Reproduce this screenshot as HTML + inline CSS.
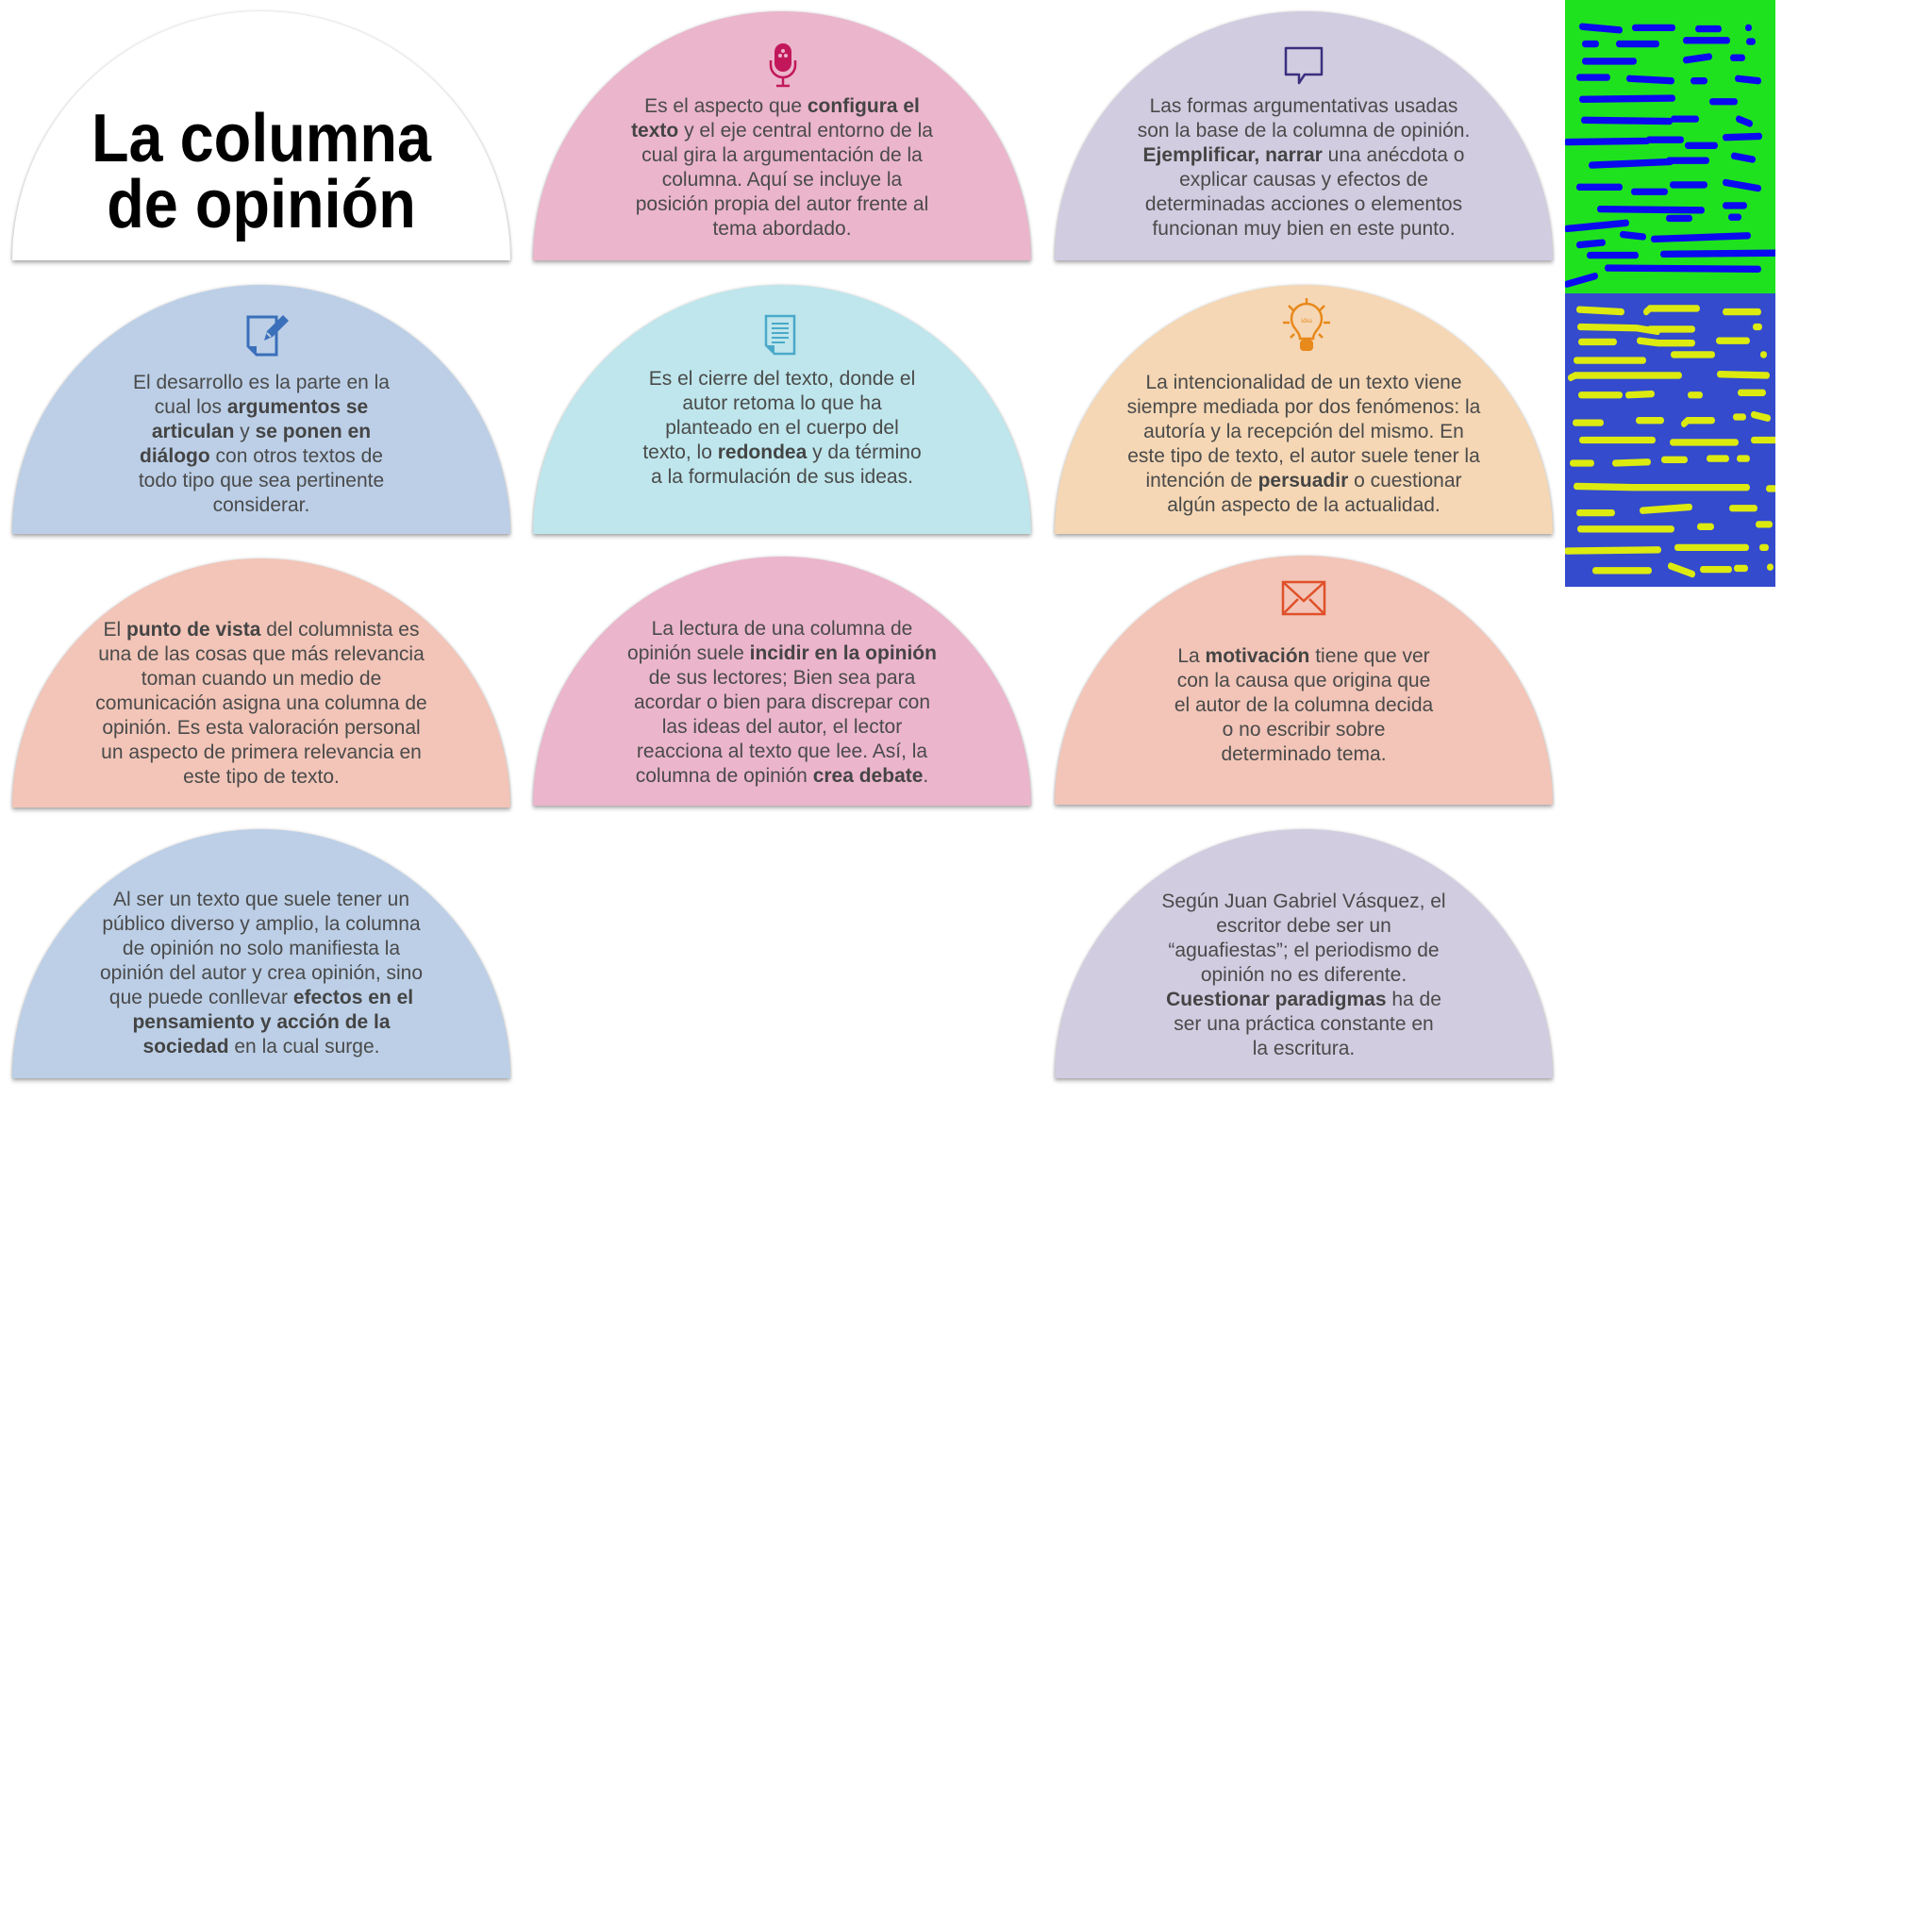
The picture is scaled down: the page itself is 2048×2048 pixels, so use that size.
<!DOCTYPE html>
<html><head><meta charset="utf-8"><style>
body{margin:0;width:2048px;height:2048px;background:#fff;position:relative;overflow:hidden;font-family:"Liberation Sans",Arial,sans-serif}
.c{position:absolute;width:528px;height:264px;border-radius:264px 264px 0 0;box-shadow:0 3px 4px rgba(0,0,0,.28),0 0 3px rgba(0,0,0,.18)}
.t{position:absolute;width:528px;text-align:center;font-size:21px;line-height:26px;color:#4a4a4a}
.t b{color:#444}
.ic{position:absolute}
.pink{background:#ebb5cb}.lav{background:#d1cce0}.blue{background:#bccfe7}.cyan{background:#bee6ec}.peach{background:#f5d7b5}.sal{background:#f2c5b8}
</style></head><body>
<div class="c" style="left:13px;top:12px;background:#fff"></div>
<div style="position:absolute;left:13px;width:528px;top:112px;text-align:center;font-weight:bold;font-size:72px;line-height:70px;color:#000"><div style="transform:scaleX(0.9)">La columna<br>de opinión</div></div>
<div class="c pink" style="left:565px;top:12px"></div>
<div class="c lav" style="left:1118px;top:12px"></div>
<div class="c blue" style="left:13px;top:302px"></div>
<div class="c cyan" style="left:565px;top:302px"></div>
<div class="c peach" style="left:1118px;top:302px"></div>
<div class="c sal" style="left:13px;top:592px"></div>
<div class="c pink" style="left:565px;top:590px"></div>
<div class="c sal" style="left:1118px;top:589px"></div>
<div class="c blue" style="left:13px;top:879px"></div>
<div class="c lav" style="left:1118px;top:879px"></div>

<svg class="ic" style="left:812px;top:44px" width="36" height="50" viewBox="0 0 36 50"><rect x="9" y="2" width="18" height="30" rx="9" fill="#c2185b"/><circle cx="18" cy="10" r="2" fill="#ebb5cb"/><circle cx="15" cy="15" r="2" fill="#ebb5cb"/><circle cx="21" cy="15" r="2" fill="#ebb5cb"/><path d="M5 20v5a13 13 0 0 0 26 0v-5" fill="none" stroke="#c2185b" stroke-width="2.5"/><path d="M18 38v8M11 47h14" stroke="#c2185b" stroke-width="2.5"/></svg>
<svg class="ic" style="left:1360px;top:48px" width="44" height="44" viewBox="0 0 44 44"><path d="M3 3h38v28H23l-6 9v-9H3z" fill="none" stroke="#3a2f7e" stroke-width="2.5" stroke-linejoin="round"/></svg>
<svg class="ic" style="left:260px;top:331px" width="50" height="48" viewBox="0 0 50 48"><path d="M3 5h30v40H12l-9-9z" fill="none" stroke="#3a6fba" stroke-width="3"/><path d="M3 36h9v9z" fill="#3a6fba"/><path d="M20 30l3-10L40 3l6 6-17 17z" fill="#3a6fba"/><path d="M23 22l4 4" stroke="#bccfe7" stroke-width="2"/></svg>
<svg class="ic" style="left:809px;top:332px" width="36" height="46" viewBox="0 0 36 46"><path d="M3 3h30v40H12l-9-9z" fill="none" stroke="#4aa9c9" stroke-width="2.5"/><path d="M3 34h9v9z" fill="#4aa9c9"/><path d="M9 11h18M9 16h18M9 21h18M9 26h18M9 31h14" stroke="#4aa9c9" stroke-width="2"/></svg>
<svg class="ic" style="left:1358px;top:314px" width="54" height="62" viewBox="0 0 54 62"><g stroke="#e8891c" stroke-width="2.5" fill="none"><path d="M27 2v7M8 10l5 5M46 10l-5 5M2 28h7M45 28h7M10 44l4-4M44 44l-4-4"/><path d="M20 45c0-8-9-11-9-21a16 16 0 0 1 32 0c0 10-9 13-9 21z"/></g><rect x="20" y="46" width="14" height="12" rx="4" fill="#e8891c"/><text x="27" y="28" font-size="7" fill="#e8891c" text-anchor="middle" font-family="Liberation Serif">idea</text></svg>
<svg class="ic" style="left:1358px;top:615px" width="48" height="38" viewBox="0 0 48 38"><rect x="2" y="2" width="44" height="34" fill="none" stroke="#e0502a" stroke-width="2.5"/><path d="M2 2l22 20 22-20M2 36l16-16M46 36L30 20" fill="none" stroke="#e0502a" stroke-width="2.5"/></svg>

<div class="t" style="left:565px;top:100px">Es el aspecto que <b>configura el</b><br><b>texto</b> y el eje central entorno de la<br>cual gira la argumentación de la<br>columna. Aquí se incluye la<br>posición propia del autor frente al<br>tema abordado.</div>
<div class="t" style="left:1118px;top:100px">Las formas argumentativas usadas<br>son la base de la columna de opinión.<br><b>Ejemplificar, narrar</b> una anécdota o<br>explicar causas y efectos de<br>determinadas acciones o elementos<br>funcionan muy bien en este punto.</div>
<div class="t" style="left:13px;top:393px">El desarrollo es la parte en la<br>cual los <b>argumentos se</b><br><b>articulan</b> y <b>se ponen en</b><br><b>diálogo</b> con otros textos de<br>todo tipo que sea pertinente<br>considerar.</div>
<div class="t" style="left:565px;top:389px">Es el cierre del texto, donde el<br>autor retoma lo que ha<br>planteado en el cuerpo del<br>texto, lo <b>redondea</b> y da término<br>a la formulación de sus ideas.</div>
<div class="t" style="left:1118px;top:393px">La intencionalidad de un texto viene<br>siempre mediada por dos fenómenos: la<br>autoría y la recepción del mismo. En<br>este tipo de texto, el autor suele tener la<br>intención de <b>persuadir</b> o cuestionar<br>algún aspecto de la actualidad.</div>
<div class="t" style="left:13px;top:655px">El <b>punto de vista</b> del columnista es<br>una de las cosas que más relevancia<br>toman cuando un medio de<br>comunicación asigna una columna de<br>opinión. Es esta valoración personal<br>un aspecto de primera relevancia en<br>este tipo de texto.</div>
<div class="t" style="left:565px;top:654px">La lectura de una columna de<br>opinión suele <b>incidir en la opinión</b><br>de sus lectores; Bien sea para<br>acordar o bien para discrepar con<br>las ideas del autor, el lector<br>reacciona al texto que lee. Así, la<br>columna de opinión <b>crea debate</b>.</div>
<div class="t" style="left:1118px;top:683px">La <b>motivación</b> tiene que ver<br>con la causa que origina que<br>el autor de la columna decida<br>o no escribir sobre<br>determinado tema.</div>
<div class="t" style="left:13px;top:941px">Al ser un texto que suele tener un<br>público diverso y amplio, la columna<br>de opinión no solo manifiesta la<br>opinión del autor y crea opinión, sino<br>que puede conllevar <b>efectos en el</b><br><b>pensamiento y acción de la</b><br><b>sociedad</b> en la cual surge.</div>
<div class="t" style="left:1118px;top:943px">Según Juan Gabriel Vásquez, el<br>escritor debe ser un<br>“aguafiestas”; el periodismo de<br>opinión no es diferente.<br><b>Cuestionar paradigmas</b> ha de<br>ser una práctica constante en<br>la escritura.</div>

<svg style="position:absolute;left:1659px;top:0" width="223" height="622" viewBox="0 0 223 508" preserveAspectRatio="none">
<rect width="223" height="254" fill="#1fe21f"/>
<rect y="254" width="223" height="254" fill="#334bcc"/>
<g stroke="#0a0af0" stroke-width="6" stroke-linecap="round" fill="none">
<path d="M18 23l40 3M74 24h40M141 25h22M194 24h1"/>
<path d="M21 38h12M57 38h40M128 35h44M195 36h4"/>
<path d="M21 53h52M128 52l25-3M178 50h10"/>
<path d="M15 67h30M68 68l45 2M136 70h12M183 68l22 2"/>
<path d="M18 86l96-1M156 88h24"/>
<path d="M20 104l91 1M115 103h24M184 103l12 4"/>
<path d="M2 123l85-1M89 121h34M130 126h29M170 119l36-1"/>
<path d="M28 143l84-3M110 139h40M179 135l20 3"/>
<path d="M15 162h43M73 166h33M114 160h34M170 158l35 5"/>
<path d="M37 181l108 1M110 189h22M170 178h20M176 188h8"/>
<path d="M2 198l63-5M61 203l22 2M94 207l100-3"/>
<path d="M15 212l25-2M26 221h49M104 220l120-1"/>
<path d="M45 232l160 1M2 246l30-7"/>
</g>
<g stroke="#dcea10" stroke-width="6" stroke-linecap="round" fill="none">
<path d="M15 268l45 2M86 270l4-3h50M170 270h35"/>
<path d="M16 283l60 1 22 3M90 285h45M202 283h4"/>
<path d="M17 296h35M79 295l20 2h36M163 295h30"/>
<path d="M12 312h71M115 307h41M210 307h1"/>
<path d="M6 327l5-2h110M164 324l50 1"/>
<path d="M17 342h41M67 342l25-1M133 342h10M186 340h24"/>
<path d="M11 366h27M78 364h24M126 367l4-3h26M181 361h8M200 359l15 3"/>
<path d="M18 381h75M114 383h67M200 381h22"/>
<path d="M8 401h20M53 401l35-1M105 398h22M153 397h18M185 397h8"/>
<path d="M12 421l60 1h70M140 422h53M216 423h6"/>
<path d="M15 444h35M82 442l50-3M177 440h24"/>
<path d="M16 458h97M143 456h12M205 454h12"/>
<path d="M2 477l97-1M119 474h73M209 474h4"/>
<path d="M32 494h57M112 490l23 7M146 493h28M182 492h9M217 491h1"/>
</g>
</svg>
</body></html>
